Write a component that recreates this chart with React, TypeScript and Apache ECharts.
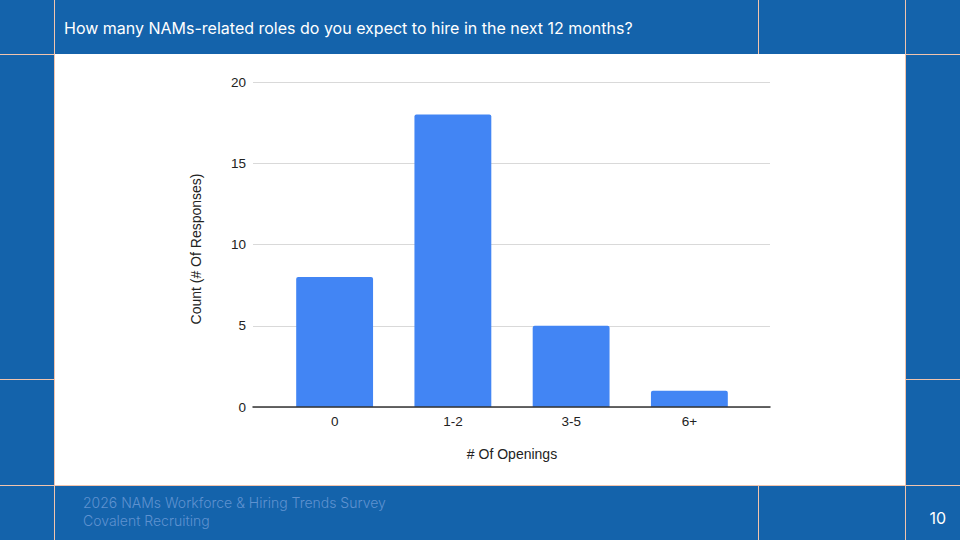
import React, { useEffect, useRef } from "react";
import * as echarts from "echarts";

const categories = ["0", "1-2", "3-5", "6+"];
const counts = [8, 18, 5, 1];
const yTicks = [0, 5, 10, 15, 20];
const titleText = "How many NAMs-related roles do you expect to hire in the next 12 months?";
const yAxisName = "Count (# Of Responses)";
const xAxisName = "# Of Openings";
const footerLines = ["2026 NAMs Workforce & Hiring Trends Survey", "Covalent Recruiting"];
const pageNumber = "10";

const BLUE = "#1463ab";
const LINE = "#f2c4ad";
const TXT = "#222222";
const FONT = "Liberation Sans";

export default function App() {
  const ref = useRef<HTMLDivElement>(null);
  useEffect(() => {
    const chart = echarts.init(ref.current!, null, { renderer: "svg" });
    const ln = (x1: number, y1: number, x2: number, y2: number) => ({
      type: "line",
      shape: { x1, y1, x2, y2 },
      style: { stroke: LINE, lineWidth: 1 },
      z: 2,
    });
    chart.setOption({
      animation: false,
      backgroundColor: BLUE,
      graphic: [
        { type: "rect", shape: { x: 55, y: 54, width: 851, height: 431 }, style: { fill: "#ffffff" }, z: -10 },
        ln(54.5, 0, 54.5, 540),
        ln(905.5, 0, 905.5, 540),
        ln(758.5, 0, 758.5, 54),
        ln(758.5, 485, 758.5, 540),
        ln(0, 54.5, 55, 54.5),
        ln(905, 54.5, 960, 54.5),
        ln(0, 379.5, 55, 379.5),
        ln(905, 379.5, 960, 379.5),
        ln(0, 485.5, 960, 485.5),
        {
          type: "text",
          x: 64,
          y: 28,
          style: { text: titleText, fill: "#ffffff", font: "400 16px Inter", verticalAlign: "middle" },
        },
        {
          type: "text",
          x: 196,
          y: 249,
          rotation: Math.PI / 2,
          style: {
            text: yAxisName,
            fill: TXT,
            font: `400 14px "${FONT}"`,
            align: "center",
            verticalAlign: "middle",
          },
        },
        {
          type: "text",
          x: 83,
          y: 502,
          style: { text: footerLines[0], fill: "#5f92d0", font: "300 14px Inter", verticalAlign: "middle" },
        },
        {
          type: "text",
          x: 83,
          y: 520,
          style: { text: footerLines[1], fill: "#5f92d0", font: "300 14px Inter", verticalAlign: "middle" },
        },
        {
          type: "text",
          x: 946,
          y: 518,
          style: { text: pageNumber, fill: "#ffffff", font: "400 16px Inter", align: "right", verticalAlign: "middle" },
        },
      ],
      grid: [
        { left: 253, right: 190, top: 82, bottom: 133 },
        { left: 275.5, right: 211.5, top: 82, bottom: 133 },
      ],
      xAxis: [
        {
          gridIndex: 0,
          type: "value",
          min: 0,
          max: 1,
          axisTick: { show: false },
          axisLabel: { show: false },
          splitLine: { show: false },
          axisLine: { show: true, lineStyle: { color: "#333", width: 1.5 } },
          z: 5,
        },
        {
          gridIndex: 1,
          type: "category",
          data: categories,
          name: xAxisName,
          nameLocation: "middle",
          nameGap: 40,
          nameTextStyle: { fontFamily: FONT, fontSize: 14, color: TXT },
          axisTick: { show: false },
          axisLine: { show: false },
          axisLabel: { fontFamily: FONT, fontSize: 13.5, color: TXT, margin: 7 },
        },
      ],
      yAxis: [
        {
          gridIndex: 0,
          type: "value",
          min: 0,
          max: 20,
          interval: 5,
          axisLabel: {
            fontFamily: FONT,
            fontSize: 13.5,
            color: TXT,
            margin: 7,
            formatter: (v: number) => (yTicks.includes(v) ? String(v) : ""),
          },
          splitLine: { lineStyle: { color: "#d9d9d9", width: 1 } },
          axisLine: { show: false },
          axisTick: { show: false },
        },
        {
          gridIndex: 1,
          type: "value",
          min: 0,
          max: 20,
          interval: 5,
          show: false,
          splitLine: { show: false },
        },
      ],
      series: [
        {
          type: "bar",
          xAxisIndex: 1,
          yAxisIndex: 1,
          data: counts,
          barWidth: "65%",
          itemStyle: { color: "#4285f4", borderRadius: [2, 2, 0, 0] },
          z: 3,
        },
      ],
    });
    return () => chart.dispose();
  }, []);
  return (
    <div
      ref={ref}
      style={{ position: "fixed", left: 0, top: 0, width: 960, height: 540 }}
    />
  );
}
